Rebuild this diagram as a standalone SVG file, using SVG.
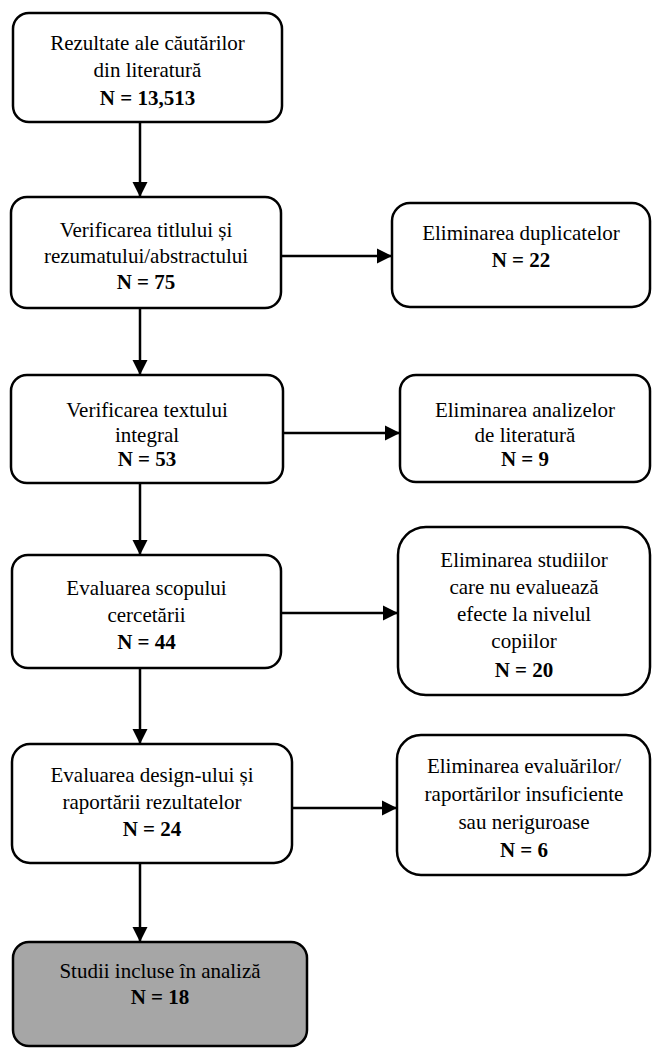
<svg xmlns="http://www.w3.org/2000/svg" width="652" height="1050" viewBox="0 0 652 1050">
<defs>
<style>
.box{fill:#ffffff;stroke:#000000;stroke-width:2.5}
.final{fill:#a6a6a6;stroke:#000000;stroke-width:2.5}
text{font-family:"Liberation Serif","Times New Roman",serif;font-size:21px;fill:#000;text-anchor:middle}
.b{font-weight:bold}
.conn{stroke:#000;stroke-width:2.5;fill:none;marker-end:url(#arr)}
</style>
<marker id="arr" markerUnits="userSpaceOnUse" markerWidth="16" markerHeight="16" refX="15" refY="8" orient="auto">
<path d="M0,0.5 L15,8 L0,15.5 Z" fill="#000"/>
</marker>
</defs>
<rect width="652" height="1050" fill="#ffffff"/>
<g id="connectors">
<line class="conn" x1="140" y1="122" x2="140" y2="197"/>
<line class="conn" x1="140" y1="308" x2="140" y2="375"/>
<line class="conn" x1="140" y1="483" x2="140" y2="555"/>
<line class="conn" x1="140" y1="668" x2="140" y2="744"/>
<line class="conn" x1="140" y1="863" x2="140" y2="942"/>
<line class="conn" x1="281" y1="256" x2="392" y2="256"/>
<line class="conn" x1="283" y1="433" x2="400" y2="433"/>
<line class="conn" x1="281" y1="613" x2="398" y2="613"/>
<line class="conn" x1="292" y1="808" x2="397" y2="808"/>
</g>
<g id="n1">
<rect class="box" x="13" y="13" width="269" height="109" rx="16"/>
<text x="147.5" y="50">Rezultate ale căutărilor</text>
<text x="147.5" y="77">din literatură</text>
<text x="147.5" y="105" class="b">N = 13,513</text>
</g>
<g id="n2">
<rect class="box" x="11" y="197" width="270" height="111" rx="16"/>
<text x="146" y="237">Verificarea titlului și</text>
<text x="146" y="263">rezumatului/abstractului</text>
<text x="146" y="289" class="b">N = 75</text>
</g>
<g id="n3">
<rect class="box" x="11" y="375" width="272" height="108" rx="16"/>
<text x="147" y="417">Verificarea textului</text>
<text x="147" y="442">integral</text>
<text x="147" y="466" class="b">N = 53</text>
</g>
<g id="n4">
<rect class="box" x="12" y="555" width="269" height="113" rx="16"/>
<text x="146.5" y="595">Evaluarea scopului</text>
<text x="146.5" y="622">cercetării</text>
<text x="146.5" y="649" class="b">N = 44</text>
</g>
<g id="n5">
<rect class="box" x="12" y="744" width="280" height="119" rx="18"/>
<text x="152" y="782">Evaluarea design-ului și</text>
<text x="152" y="809">raportării rezultatelor</text>
<text x="152" y="836" class="b">N = 24</text>
</g>
<g id="n6">
<rect class="final" x="13" y="942" width="294" height="104" rx="16"/>
<text x="160" y="978">Studii incluse în analiză</text>
<text x="160" y="1004" class="b">N = 18</text>
</g>
<g id="r1">
<rect class="box" x="392" y="203" width="258" height="104" rx="18"/>
<text x="521" y="240">Eliminarea duplicatelor</text>
<text x="521" y="267" class="b">N = 22</text>
</g>
<g id="r2">
<rect class="box" x="400" y="375" width="250" height="107" rx="16"/>
<text x="525" y="417">Eliminarea analizelor</text>
<text x="525" y="442">de literatură</text>
<text x="525" y="466" class="b">N = 9</text>
</g>
<g id="r3">
<rect class="box" x="398" y="527" width="252" height="168" rx="28"/>
<text x="524" y="567">Eliminarea studiilor</text>
<text x="524" y="594">care nu evaluează</text>
<text x="524" y="621">efecte la nivelul</text>
<text x="524" y="648">copiilor</text>
<text x="524" y="677" class="b">N = 20</text>
</g>
<g id="r4">
<rect class="box" x="397" y="735" width="253" height="140" rx="24"/>
<text x="524" y="773">Eliminarea evaluărilor/</text>
<text x="524" y="801">raportărilor insuficiente</text>
<text x="524" y="829">sau neriguroase</text>
<text x="524" y="857" class="b">N = 6</text>
</g>
</svg>
